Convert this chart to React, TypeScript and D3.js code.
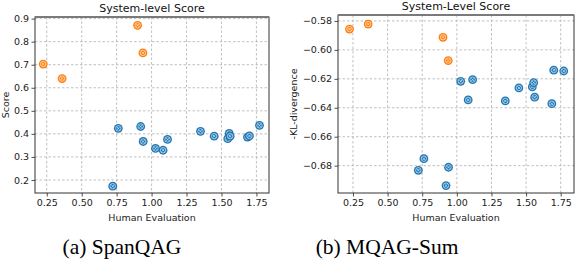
import { useEffect, useRef } from "react";
import * as d3 from "d3";

// human evaluation (x) shared by both panels
const humanOrange = [0.225, 0.36, 0.9, 0.938];
const humanBlue = [0.722, 0.762, 0.922, 0.94, 1.028, 1.082, 1.114, 1.35, 1.448, 1.545, 1.555, 1.562, 1.686, 1.7, 1.772];

// panel (a) SpanQAG scores
const spanOrange = [0.703, 0.64, 0.871, 0.751];
const spanBlue = [0.173, 0.424, 0.432, 0.367, 0.337, 0.329, 0.376, 0.411, 0.39, 0.379, 0.402, 0.39, 0.386, 0.391, 0.437];

// panel (b) MQAG-Sum -KL-divergence
const mqagOrange = [-0.5856, -0.5822, -0.5913, -0.6074];
const mqagBlue = [-0.6832, -0.6752, -0.6938, -0.6811, -0.6217, -0.6346, -0.6206, -0.6353, -0.6263, -0.6256, -0.6226, -0.6327, -0.6372, -0.614, -0.6146];

const xTicks = [0.25, 0.5, 0.75, 1.0, 1.25, 1.5, 1.75];
const spanYTicks = [0.2, 0.3, 0.4, 0.5, 0.6, 0.7, 0.8, 0.9];
const mqagYTicks = [-0.68, -0.66, -0.64, -0.62, -0.6, -0.58];

const BLUE = "#1f77b4";
const ORANGE = "#ff7f0e";
const FONT = "DejaVu Sans, sans-serif";

function drawPanel(svg, opt) {
    const { left, right, top, bottom, xDomain, yDomain, yTicks, yFmt, ys, title, yLabel, caption } = opt;
    const x = d3.scaleLinear().domain(xDomain).range([left, right]);
    const y = d3.scaleLinear().domain(yDomain).range([bottom, top]);
    const g = svg.append("g");

    // grid
    g.selectAll(".gx").data(xTicks).enter().append("line")
        .attr("x1", d => x(d)).attr("x2", d => x(d))
        .attr("y1", top).attr("y2", bottom)
        .attr("stroke", "#b0b0b0").attr("stroke-width", 0.8).attr("stroke-dasharray", "2.5,2");
    g.selectAll(".gy").data(yTicks).enter().append("line")
        .attr("x1", left).attr("x2", right)
        .attr("y1", d => y(d)).attr("y2", d => y(d))
        .attr("stroke", "#b0b0b0").attr("stroke-width", 0.8).attr("stroke-dasharray", "2.5,2");

    // axes
    const xAxis = d3.axisBottom(x).tickValues(xTicks).tickFormat(d3.format(".2f")).tickSize(3.5).tickPadding(2.5);
    const yAxis = d3.axisLeft(y).tickValues(yTicks).tickFormat(yFmt).tickSize(3.5).tickPadding(2.5);
    const ax = g.append("g").attr("transform", `translate(0,${bottom})`).call(xAxis);
    const ay = g.append("g").attr("transform", `translate(${left},0)`).call(yAxis);
    [ax, ay].forEach(a => {
        a.select(".domain").remove();
        a.selectAll("line").attr("stroke", "#222").attr("stroke-width", 0.8);
        a.selectAll("text").attr("fill", "#222").style("font-family", FONT).style("font-size", "9.5px");
    });

    // spines
    g.append("rect").attr("x", left).attr("y", top).attr("width", right - left).attr("height", bottom - top)
        .attr("fill", "none").attr("stroke", "#333").attr("stroke-width", 1);
    g.append("line").attr("x1", left).attr("x2", right).attr("y1", top).attr("y2", top)
        .attr("stroke", "#7a7a7a").attr("stroke-width", 2);

    // points
    const pts = [];
    humanOrange.forEach((h, i) => pts.push({ h, v: ys.orange[i], c: ORANGE }));
    humanBlue.forEach((h, i) => pts.push({ h, v: ys.blue[i], c: BLUE }));
    const m = g.selectAll(".pt").data(pts).enter().append("g")
        .attr("transform", d => `translate(${x(d.h)},${y(d.v)})`);
    m.append("circle").attr("r", 4.4).attr("fill", d => d.c);
    m.append("circle").attr("r", 2.7).attr("fill", "none").attr("stroke", "#fff").attr("stroke-width", 0.8).attr("opacity", 0.75);
    m.append("path").attr("d", "M-1.3,-1.3L1.3,1.3M-1.3,1.3L1.3,-1.3")
        .attr("stroke", "#fff").attr("stroke-width", 0.8).attr("opacity", 0.8);

    // labels
    g.append("text").attr("x", (left + right) / 2).attr("y", top - 5)
        .attr("text-anchor", "middle").style("font-family", FONT).style("font-size", "11px").attr("fill", "#111")
        .text(title);
    g.append("text").attr("x", (left + right) / 2).attr("y", bottom + 28)
        .attr("text-anchor", "middle").style("font-family", FONT).style("font-size", "9.5px").attr("fill", "#222")
        .text("Human Evaluation");
    g.append("text").attr("transform", `translate(${opt.yLabelX},${(top + bottom) / 2}) rotate(-90)`)
        .attr("text-anchor", "middle").style("font-family", FONT).style("font-size", "9.5px").attr("fill", "#222")
        .text(yLabel);
    g.append("text").attr("x", opt.captionX).attr("y", 254)
        .attr("text-anchor", "middle").style("font-family", "Liberation Serif, Times New Roman, serif").style("font-size", "21.5px").attr("fill", "#000")
        .text(caption);
}

export default function App() {
    const ref = useRef(null);

    useEffect(() => {
        const svg = d3.select(ref.current);
        svg.selectAll("*").remove();

        drawPanel(svg, {
            left: 35, right: 269, top: 17, bottom: 193,
            xDomain: [0.166, 1.84], yDomain: [0.1435, 0.907],
            yTicks: spanYTicks, yFmt: d3.format(".1f"),
            ys: { orange: spanOrange, blue: spanBlue },
            title: "System-level Score", yLabel: "Score", yLabelX: 9, captionX: 122,
            caption: "(a) SpanQAG",
        });
        drawPanel(svg, {
            left: 338, right: 574, top: 15, bottom: 193,
            xDomain: [0.142, 1.846], yDomain: [-0.6989, -0.5759],
            yTicks: mqagYTicks, yFmt: d => d3.format(".2f")(d).replace("-", "\u2212"),
            ys: { orange: mqagOrange, blue: mqagBlue },
            title: "System-Level Score", yLabel: "-KL-divergence", yLabelX: 297, captionX: 387,
            caption: "(b) MQAG-Sum",
        });
    }, []);

    return (
        <svg ref={ref} width={576} height={270}
            style={{ position: "absolute", left: 0, top: 0, background: "#fff" }} />
    );
}
